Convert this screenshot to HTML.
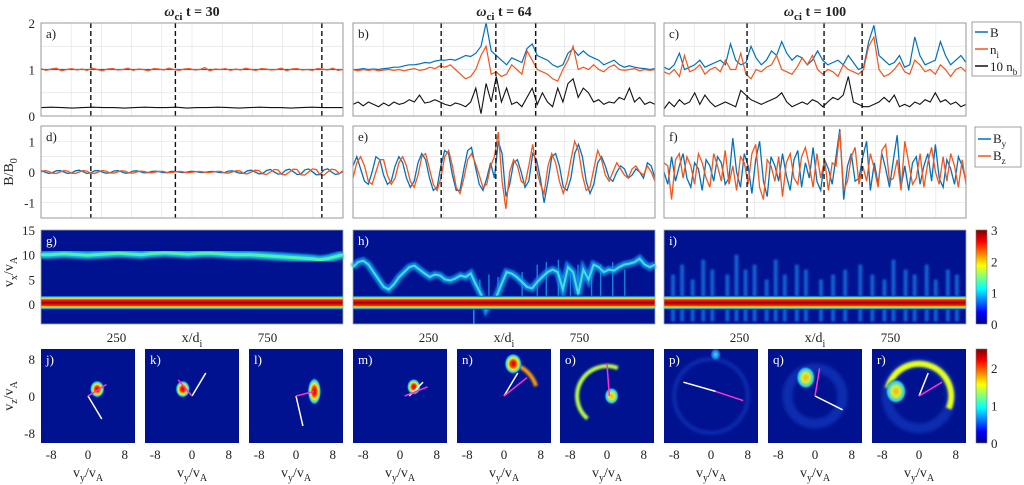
<!DOCTYPE html>
<html><head><meta charset="utf-8">
<style>
html,body{margin:0;padding:0;background:#fff;}
svg{display:block;font-family:"Liberation Serif","Times New Roman",serif;}
svg text{font-family:"Liberation Serif","Times New Roman",serif;}
</style></head>
<body>
<svg id="fig" width="1024" height="485" viewBox="0 0 1024 485" xmlns="http://www.w3.org/2000/svg">
<defs>
<filter id="blur1" x="-50%" y="-20%" width="200%" height="140%"><feGaussianBlur stdDeviation="1"/></filter>
<filter id="blur2" x="-50%" y="-50%" width="200%" height="200%"><feGaussianBlur stdDeviation="1.8"/></filter>
<linearGradient id="jetV" x1="0" y1="1" x2="0" y2="0">
<stop offset="0" stop-color="#00008f"/><stop offset="0.125" stop-color="#0000ff"/><stop offset="0.375" stop-color="#00ffff"/><stop offset="0.625" stop-color="#ffff00"/><stop offset="0.875" stop-color="#ff0000"/><stop offset="1" stop-color="#800000"/>
</linearGradient>
<linearGradient id="coreG" x1="0" y1="0" x2="0" y2="1">
<stop offset="0" stop-color="#00128f"/><stop offset="0.08" stop-color="#20c8f0"/><stop offset="0.18" stop-color="#f0f020"/><stop offset="0.3" stop-color="#ff2000"/><stop offset="0.5" stop-color="#a00000"/><stop offset="0.7" stop-color="#ff2000"/><stop offset="0.8" stop-color="#f0f020"/><stop offset="0.9" stop-color="#20c8f0"/><stop offset="1" stop-color="#00128f"/>
</linearGradient>
<radialGradient id="blobG"><stop offset="0" stop-color="#c00000"/><stop offset="0.3" stop-color="#ff3000"/><stop offset="0.55" stop-color="#f0f020"/><stop offset="0.8" stop-color="#20c8f0"/><stop offset="1" stop-color="#00128f" stop-opacity="0"/></radialGradient>
<radialGradient id="blobY"><stop offset="0" stop-color="#ffb000"/><stop offset="0.4" stop-color="#d0f040"/><stop offset="0.75" stop-color="#20c8f0"/><stop offset="1" stop-color="#00128f" stop-opacity="0"/></radialGradient>
<radialGradient id="blobC"><stop offset="0" stop-color="#40e0d0"/><stop offset="0.6" stop-color="#1a70f0"/><stop offset="1" stop-color="#00128f" stop-opacity="0"/></radialGradient>
</defs>
</svg>
<script>
// ---------- data ----------
const niC1 = [1.02,0.98,1.01,1.03,0.97,1.0,1.02,0.99,1.01,0.98,1.03,1.0,0.97,1.01,1.02,0.99,1.0,1.03,0.98,1.01,1.0,0.97,1.02,1.01,0.99,1.03,1.0,0.98,1.01,1.02,0.99,1.0,1.04,0.97,1.01,1.0,1.02,0.98,1.01,0.99,1.03,1.0,0.98,1.02,1.01,0.99,1.0,1.03,0.97,1.01,1.02,0.99,1.0,0.98,1.02,1.01,0.99,1.03,0.98,1.0];
const bC1 = [1.0,1.0,1.0,1.0,1.0,1.0,1.0,1.0,1.0,1.0];
const nbC1 = [0.18,0.19,0.18,0.17,0.18,0.19,0.18,0.18,0.17,0.18,0.19,0.18,0.18,0.19,0.17,0.18,0.18,0.19,0.18,0.17,0.18,0.19,0.18,0.18,0.17,0.18,0.19,0.18,0.18,0.18];
const bC2 = [1.0,1.0,1.02,1.0,1.01,1.0,1.02,1.03,1.05,1.05,1.08,1.1,1.1,1.12,1.15,1.14,1.18,1.2,1.2,1.22,1.2,1.25,1.3,1.28,1.35,1.5,2.0,1.4,1.3,1.2,1.1,1.25,1.2,1.15,1.45,1.55,1.3,1.25,1.2,1.1,1.05,1.1,1.35,1.45,1.3,1.4,1.3,1.25,1.2,1.1,1.15,1.2,1.1,1.05,1.08,1.05,1.03,1.02,1.0,1.02];
const niC2 = [1.0,0.97,1.0,0.98,1.0,0.97,0.99,1.0,0.98,1.0,0.97,1.0,1.02,0.98,1.0,1.05,1.02,1.08,1.05,1.1,1.0,0.9,0.8,0.85,1.0,1.3,1.5,0.9,0.95,0.85,0.9,1.1,1.0,0.9,1.4,1.2,1.0,0.95,0.9,0.8,0.75,1.0,1.2,1.5,1.0,1.05,1.0,1.1,1.0,0.95,1.05,1.1,1.0,0.98,1.0,1.02,0.97,1.0,0.98,1.0];
const nbC2 = [0.25,0.3,0.22,0.3,0.25,0.2,0.28,0.22,0.3,0.25,0.28,0.35,0.3,0.45,0.28,0.3,0.35,0.3,0.25,0.22,0.28,0.25,0.2,0.3,0.6,0.05,0.7,0.3,0.85,0.3,0.6,0.25,0.3,0.2,0.4,0.6,0.25,0.5,0.3,0.2,0.6,0.3,0.7,0.8,0.4,0.6,0.5,0.3,0.35,0.25,0.3,0.28,0.4,0.35,0.6,0.3,0.4,0.25,0.3,0.25];
const bC3 = [1.05,1.0,1.1,1.35,1.0,1.05,1.1,1.2,1.05,1.1,1.15,1.2,1.1,1.55,1.2,1.1,1.15,1.5,1.25,1.1,1.2,1.4,1.3,1.6,1.35,1.2,1.3,1.25,1.1,1.2,1.4,1.2,1.1,1.15,1.2,1.1,1.3,1.15,1.0,1.05,1.6,1.95,1.3,1.2,1.1,1.15,1.3,1.05,1.1,1.7,1.3,1.1,1.15,1.2,1.6,1.3,1.1,1.2,1.3,1.15];
const niC3 = [0.95,0.9,1.0,0.85,1.3,0.95,1.0,1.1,0.9,1.0,1.05,0.95,1.2,1.0,1.0,1.35,0.9,0.8,1.0,0.95,1.05,1.1,1.3,1.0,0.95,0.9,1.05,1.25,1.1,1.3,1.0,0.9,1.0,0.95,0.85,1.1,1.0,0.95,0.9,1.0,1.5,1.7,1.0,0.85,0.9,1.0,1.15,0.95,0.9,1.2,1.1,0.95,1.0,0.9,1.1,1.0,0.85,1.0,1.05,0.95];
const nbC3 = [0.15,0.3,0.2,0.35,0.25,0.3,0.5,0.25,0.45,0.3,0.2,0.25,0.3,0.25,0.2,0.55,0.45,0.35,0.3,0.25,0.3,0.35,0.4,0.5,0.3,0.2,0.25,0.3,0.25,0.35,0.3,0.2,0.3,0.4,0.35,0.45,0.85,0.3,0.25,0.2,0.2,0.25,0.3,0.4,0.3,0.45,0.2,0.25,0.2,0.3,0.25,0.35,0.3,0.5,0.3,0.35,0.25,0.3,0.2,0.25];
const byC1 = [0.05,0.0,-0.05,-0.02,0.04,0.05,0.0,-0.05,-0.03,0.04,0.06,0.01,-0.05,-0.03,0.04,0.05,0.0,-0.04,-0.03,0.03,0.05,0.01,-0.04,-0.03,0.03,0.04,0.01,-0.03,-0.02,0.02,0.03,0.01,-0.02,-0.02,0.02,0.02,0.0,-0.02,-0.01,0.02,0.02,0.0,-0.02,-0.01,0.01,0.02,0.0,-0.02,-0.02,0.03,0.04,0.0,-0.04,-0.04,0.04,0.06,0.0,-0.06,-0.05,0.05,0.08,0.0,-0.07,-0.06,0.06,0.09,0.01,-0.08,-0.07,0.07,0.1,0.01,-0.09,-0.08,0.07,0.1,0.0,-0.08,-0.06,0.04];
const bzC1 = [0.0,0.05,0.02,-0.04,-0.05,0.0,0.05,0.03,-0.04,-0.05,0.0,0.05,0.03,-0.04,-0.05,0.0,0.05,0.03,-0.03,-0.04,0.0,0.04,0.03,-0.03,-0.04,0.0,0.03,0.02,-0.02,-0.03,0.0,0.02,0.02,-0.02,-0.02,0.0,0.02,0.01,-0.02,-0.02,0.0,0.02,0.01,-0.01,-0.02,0.0,0.02,0.02,-0.03,-0.04,0.0,0.04,0.04,-0.05,-0.06,0.0,0.06,0.05,-0.06,-0.08,0.0,0.08,0.07,-0.08,-0.09,0.0,0.09,0.08,-0.09,-0.1,0.0,0.1,0.08,-0.09,-0.1,0.0,0.09,0.07,-0.05,0.0];
const byC2 = [0.2,0.5,0.1,-0.3,-0.4,0.0,0.5,0.4,-0.1,-0.4,-0.3,0.2,0.5,0.3,-0.2,-0.5,-0.3,0.3,0.6,0.4,-0.2,-0.6,-0.5,0.2,0.7,0.6,-0.1,-0.6,-0.6,0.1,0.7,0.8,0.2,-0.4,-0.6,-0.2,0.3,-0.2,1.0,0.6,-0.8,-0.4,0.3,0.4,0.0,-0.5,-0.3,0.6,0.4,-0.2,-1.0,-0.3,0.5,0.6,0.2,-0.5,-0.6,-0.2,0.6,0.9,0.5,-0.3,-0.7,-0.4,0.3,0.5,0.2,-0.2,-0.3,0.0,0.2,0.1,-0.2,-0.1,0.1,0.0,-0.2,0.3,0.2,-0.2];
const bzC2 = [-0.2,0.3,0.5,0.2,-0.3,-0.4,0.0,0.4,0.4,-0.1,-0.4,-0.2,0.3,0.5,0.2,-0.3,-0.5,-0.1,0.5,0.6,0.1,-0.4,-0.6,-0.2,0.5,0.7,0.2,-0.5,-0.7,-0.2,0.4,0.6,0.3,-0.1,-0.5,-0.4,0.2,0.5,1.3,-0.3,-1.2,0.0,0.4,0.2,-0.3,-0.4,0.2,0.9,0.1,-0.4,-0.7,0.2,0.6,0.3,-0.3,-0.7,-0.3,0.4,1.0,0.7,-0.1,-0.6,-0.5,0.1,0.7,0.4,-0.1,-0.3,0.0,0.3,0.1,-0.1,-0.2,0.1,0.2,0.0,-0.1,0.2,0.0,-0.3];
const byC3 = [0.0,-0.4,0.5,-0.3,0.2,0.6,-0.2,-0.5,0.3,0.1,-0.6,0.4,0.2,-0.3,0.5,0.3,-0.4,-0.2,1.1,0.0,-0.5,0.6,0.2,-0.7,0.4,1.0,-0.3,-0.8,0.5,0.2,-0.3,0.6,-0.1,-0.6,0.4,0.7,-0.5,0.3,-0.2,0.8,-0.3,-0.6,0.4,0.1,-0.4,0.5,1.4,-0.9,0.2,0.6,-0.3,-0.2,0.5,1.0,-0.6,0.3,-0.4,0.6,0.1,-0.5,0.4,1.2,-0.5,0.2,-0.6,0.3,0.5,-0.4,0.2,0.6,-0.3,0.9,-0.2,-0.5,0.4,0.1,-0.4,0.5,0.2,-0.3];
const bzC3 = [0.3,0.2,-0.9,0.4,0.6,-0.2,0.5,0.2,-0.4,0.6,0.3,-0.2,-0.5,0.6,0.2,-0.3,0.7,-0.4,0.2,-0.6,0.5,0.3,-0.4,0.6,0.9,-0.5,-0.9,0.4,0.2,-0.3,0.5,-0.8,0.3,0.6,-0.2,-0.4,0.5,0.8,0.2,-0.5,0.6,-0.2,0.4,-0.6,0.3,0.2,1.3,-0.6,-0.3,0.5,0.8,-0.4,0.2,-0.3,0.6,0.1,-0.5,0.7,0.9,-0.3,-0.2,0.4,-0.6,1.0,0.3,-0.4,-0.2,0.6,-0.5,0.3,0.8,0.0,-0.4,0.5,-0.3,0.6,0.2,-0.5,0.4,-0.4];
const dashC1 = [165,445,930];
const dashC2 = [292,473,605];
const dashC3 = [275,530,656];
const beamG = [10,10,10.1,10.2,10.1,10.0,9.9,10,10.1,10.2,10.3,10.2,10.1,10.0,10.2,10.3,10.4,10.3,10.2,10.1,10.2,10.3,10.3,10.2,10.1,10.0,10,10,9.9,9.8,9.7,9.6,9.5,9.4,9.3,9.2,9.0,9.2,9.6,10.0];
const beamH = [7.5,8.5,8.8,8,6.5,5,3.5,3,4,5.5,6.5,7.5,7.8,7,6.2,5.5,6,5.8,5,4.8,5.2,5.8,5.5,6.2,4,2,-1,0.5,1.5,4,6.5,6.2,5.5,4.5,3.5,3.2,4.5,5.5,6.5,7,6.5,3,7.5,6.5,2,7,5,8,7.5,6.5,7,6.8,7.5,8,8.2,8.5,9.2,8,7.5,8];
const streakHX = [420,450,480,560,610,640,680,720,745,790,820,860,900];
const streakHTop = [5,6,5.5,6.5,8,8.5,9,7.5,8,7,8,8.5,7];
const streakIX = [30,60,95,130,160,210,240,270,300,340,370,400,440,470,520,560,600,650,690,730,760,800,830,870,900,940,970];
const streakITop = [6,8,5,9,7,6,10,7,8,5,9,6,8,7,5,6,7,8,6,5,9,7,6,8,5,7,6];
const vPanels = ['j','k','l','m','n','o','p','q','r'];
const blobVy = [2,-2,4,3,2,1,1,-2,-5];
const blobVz = [1.5,1.5,1,2,7,0,9,4,1];
const blobR = [1.5,1.5,1.4,1.4,1.8,1.5,1.2,2,2.2];
const arcR = [0,0,0,0,7.3,6.5,8,6,7];
const arcA0 = [0,0,0,0,0.3,1.2,0,0,-0.4];
const arcA1 = [0,0,0,0,1.3,4.0,6.28,6.28,2.9];
const arcVal = [0,0,0,0,1.8,1.4,0.5,0.7,1.5];
const whiteLine = [[0,0,3,-5],[0,0,3,5],[0,0,1.5,-6.5],[2,0,5,3],[0,0,3,5],[0,0,0,0],[-6,3,1,1],[0,0,6,-3],[0,0,2,5]];
const magLine = [[0,0,4,2.5],[0,0,-3,3.5],[0,0,4,1],[1,0,6,2],[0,0,5,4],[0,7,0.5,0],[1,1,7,-1],[0,0,1,6],[0,0,5,3]];

// ---------- helpers ----------
const svg=document.getElementById('fig');
const NS='http://www.w3.org/2000/svg';
function mk(tag,attrs,parent){const e=document.createElementNS(NS,tag);for(const k in attrs)e.setAttribute(k,attrs[k]);(parent||svg).appendChild(e);return e;}
function txt(x,y,s,size,anchor,parent,extra){const t=mk('text',Object.assign({x:x,y:y,'font-size':size,'text-anchor':anchor||'middle',fill:'#222'},extra||{}),parent);t.style.fontFamily='"Liberation Serif","Times New Roman",serif';t.innerHTML=s;return t;}
const X0=[41,353,664],W=302;
const BLUE='#0072bd',ORG='#f2561d';
function sx(c,v){return X0[c]+v/1000*W;}
function yA(v){return 116-v/2*93;}
function yD(v){return 172-v*30.7;}
function yG(v){return 324-(v+4)/19*94;}
function jet(t){t=Math.max(0,Math.min(1,t));const r=Math.min(1,Math.max(0,1.5-Math.abs(4*t-3))),g=Math.min(1,Math.max(0,1.5-Math.abs(4*t-2))),b=Math.min(1,Math.max(0,1.5-Math.abs(4*t-1)));return 'rgb('+Math.round(r*255)+','+Math.round(g*255)+','+Math.round(b*255)+')';}
function series(c,arr,yf,color,name,parent,w){const n=arr.length;let pts=arr.map((v,i)=>sx(c,i*1000/(n-1)).toFixed(1)+','+yf(v).toFixed(1)).join(' ');const p=mk('polyline',{points:pts,fill:'none',stroke:color,'stroke-width':w||1.2},parent);

return p;}

const titles=['30','64','100'];
const labA=['a)','b)','c)'],labD=['d)','e)','f)'],labG=['g)','h)','i)'];
const dashes=[dashC1,dashC2,dashC3];
const B=[bC1,bC2,bC3],NI=[niC1,niC2,niC3],NB=[nbC1,nbC2,nbC3],BY=[byC1,byC2,byC3],BZ=[bzC1,bzC2,bzC3];

for(let c=0;c<3;c++){
  const cx=X0[c]+W/2;
  const tt=txt(cx,16,'<tspan font-style="italic">ω</tspan><tspan font-size="11" dy="4">ci</tspan><tspan dy="-4"> t = '+titles[c]+'</tspan>',14,'middle');
  tt.setAttribute('font-weight','bold');
  
  
  [['a',23,116,[0,0.5,1,1.5,2],yA],['d',126,218,[-1.5,-1,-0.5,0,0.5,1,1.5],yD]].forEach((r,ri)=>{
    const g=mk('g',{});
    
    
    mk('rect',{x:X0[c],y:r[1],width:W,height:r[2]-r[1],fill:'#fff'},g);
    for(let v=100;v<1000;v+=100)mk('line',{x1:sx(c,v),x2:sx(c,v),y1:r[1],y2:r[2],stroke:'#e4e4e4','stroke-width':0.7},g);
    r[3].forEach(v=>mk('line',{x1:X0[c],x2:X0[c]+W,y1:r[4](v),y2:r[4](v),stroke:'#e4e4e4','stroke-width':0.7},g));
    if(ri==0){series(c,NB[c],yA,'#111','series-10nb',g,1.1);series(c,B[c],yA,BLUE,'series-B',g,1.2);series(c,NI[c],yA,ORG,'series-ni',g,1.2);}
    else{series(c,BY[c],yD,BLUE,'series-By',g,1.3);series(c,BZ[c],yD,ORG,'series-Bz',g,1.3);}
    dashes[c].forEach(d=>{const l=mk('line',{x1:sx(c,d),x2:sx(c,d),y1:r[1],y2:r[2],stroke:'#111','stroke-width':1.4,'stroke-dasharray':'5,3'},g);
      
      });
    mk('rect',{x:X0[c],y:r[1],width:W,height:r[2]-r[1],fill:'none',stroke:'#999','stroke-width':1},g);
    txt(X0[c]+5,r[1]+15,ri==0?labA[c]:labD[c],13,'start',g);
  });
  const hg=mk('g',{});
  
  
  mk('rect',{x:X0[c],y:230,width:W,height:94,fill:'#00128f'},hg);
  if(c==0){
    const pts=beamG.map((v,i)=>sx(c,i*1000/(beamG.length-1)).toFixed(1)+','+yG(v).toFixed(1)).join(' ');
    mk('polyline',{points:pts,fill:'none',stroke:'#18b8e8','stroke-width':8,filter:'url(#blur1)'},hg);
    mk('polyline',{points:pts,fill:'none',stroke:'#50f0b0','stroke-width':3},hg);
  } else if(c==1){
    streakHX.forEach((x,i)=>mk('rect',{x:sx(c,x)-0.7,width:1.4,y:yG(streakHTop[i]),height:yG(1.5)-yG(streakHTop[i]),fill:'#1aa0f0',opacity:0.8},hg));
    const pts=beamH.map((v,i)=>sx(c,i*1000/(beamH.length-1)).toFixed(1)+','+yG(v).toFixed(1)).join(' ');
    mk('polyline',{points:pts,fill:'none',stroke:'#1890f0','stroke-width':7,filter:'url(#blur1)',opacity:0.9},hg);
    mk('polyline',{points:pts,fill:'none',stroke:'#40e0d8','stroke-width':2},hg);
    mk('rect',{x:sx(c,400)-0.7,width:1.4,y:yG(-1),height:yG(-4)-yG(-1),fill:'#1aa0f0'},hg);
  } else {
    streakIX.forEach((x,i)=>mk('rect',{x:sx(c,x)-2,width:4,y:yG(streakITop[i]),height:yG(-3.5)-yG(streakITop[i]),fill:'#1a80f0',opacity:0.7,filter:'url(#blur1)'},hg));
  }
  mk('rect',{x:X0[c],y:yG(1.7),width:W,height:yG(-1.1)-yG(1.7),fill:'url(#coreG)'},hg);
  mk('rect',{x:X0[c],y:230,width:W,height:94,fill:'none',stroke:'#9aa','stroke-width':0.8},hg);
  const lt=txt(X0[c]+5,245,labG[c],13,'start',hg);lt.setAttribute('fill','#fff');
  txt(sx(c,250),342,'250',13,'middle');
  txt(sx(c,750),342,'750',13,'middle');
  const xl=txt(cx,342,'x/d<tspan font-size="10" dy="5">i</tspan>',14,'middle');
  
  
}

const sqX=[41,145,249,353,457,560,664,768,872];
for(let k=0;k<9;k++){
  const x0=sqX[k],y0=349,S=94,cx=x0+S/2,cy=y0+S/2,sc=4.6;
  const px=v=>cx+v*sc, py=v=>cy-v*sc;
  const g=mk('g',{});
  
  
  const clip=mk('clipPath',{id:'cl'+k},g);mk('rect',{x:x0,y:y0,width:S,height:S},clip);
  mk('rect',{x:x0,y:y0,width:S,height:S,fill:'#00128f'},g);
  const ig=mk('g',{'clip-path':'url(#cl'+k+')'},g);
  if(arcR[k]>0){
    const r=arcR[k]*sc, col=jet(arcVal[k]/2.5);
    if(k>=6){mk('circle',{cx:cx,cy:cy,r:r,fill:'none',stroke:'#1a50d8','stroke-width':k==6?3:10,opacity:k==6?0.6:0.45,filter:'url(#blur2)'},ig);}
    const a0=arcA0[k],a1=arcA1[k];
    if(a1-a0<6){
      const large=(a1-a0)>Math.PI?1:0;
      const d='M'+(cx+r*Math.cos(a0))+','+(cy-r*Math.sin(a0))+' A'+r+','+r+' 0 '+large+' 0 '+(cx+r*Math.cos(a1))+','+(cy-r*Math.sin(a1));
      mk('path',{d:d,fill:'none',stroke:col,'stroke-width':k==8?6:4,filter:'url(#blur1)'},ig);
    }
  }
  const grad=k<=4?'url(#blobG)':(k==6?'url(#blobC)':'url(#blobY)');
  const ry=k==2?2.2:1.3;
  mk('ellipse',{cx:px(blobVy[k]),cy:py(blobVz[k]),rx:blobR[k]*sc*1.1,ry:blobR[k]*sc*ry,fill:grad},ig);
  const w=whiteLine[k],m=magLine[k];
  if(w[0]!=w[2]||w[1]!=w[3])mk('line',{x1:px(w[0]),y1:py(w[1]),x2:px(w[2]),y2:py(w[3]),stroke:'#fff','stroke-width':1.5},ig);
  mk('line',{x1:px(m[0]),y1:py(m[1]),x2:px(m[2]),y2:py(m[3]),stroke:'#ff30d0','stroke-width':1.5},ig);
  const lt=txt(x0+5,y0+15,vPanels[k]+')',13,'start',g);lt.setAttribute('fill','#fff');
  [-8,0,8].forEach(v=>txt(px(v),459,String(v),13,'middle'));
  const vl=txt(cx,477,'v<tspan font-size="10" dy="4">y</tspan><tspan dy="-4">/v</tspan><tspan font-size="10" dy="4">A</tspan>',14,'middle');
  
  
}

[[0,yA],[1,yA],[2,yA]].forEach(t=>txt(35,t[1](t[0])+5,String(t[0]),13,'end'));
[[1,yD],[0,yD],[-1,yD]].forEach(t=>txt(35,t[1](t[0])+5,String(t[0]),13,'end'));
[15,10,5,0].forEach(v=>txt(35,yG(v)+5,String(v),13,'end'));
[8,0,-8].forEach(v=>txt(35,396-v*4.6+5,String(v),13,'end'));
function ylab(x,y,html,name){const t=txt(0,0,html,14,'middle');t.setAttribute('transform','translate('+x+','+y+') rotate(-90)');

}
ylab(13,172,'B/B<tspan font-size="10" dy="4">0</tspan>','y-axis-title-b');
ylab(13,272,'v<tspan font-size="10" dy="4">x</tspan><tspan dy="-4">/v</tspan><tspan font-size="10" dy="4">A</tspan>','y-axis-title-vx');
ylab(13,396,'v<tspan font-size="10" dy="4">z</tspan><tspan dy="-4">/v</tspan><tspan font-size="10" dy="4">A</tspan>','y-axis-title-vz');

[[230,324,[0,1,2,3],3],[349,443,[0,1,2],2.5]].forEach((cb,i)=>{
  const g=mk('g',{});
  
  
  mk('rect',{x:976,y:cb[0],width:11,height:cb[1]-cb[0],fill:'url(#jetV)',stroke:'#777','stroke-width':0.6},g);
  cb[2].forEach(v=>txt(991,cb[1]-v/cb[3]*(cb[1]-cb[0])+5,String(v),13,'start',g));
});

const lg1=mk('g',{});


mk('rect',{x:972,y:22,width:49,height:54,fill:'#fff',stroke:'#888','stroke-width':0.8},lg1);
[['B',BLUE,''],['n','#f2561d','i'],['10 n','#111','b']].forEach((e,i)=>{
  const y=33+i*17;
  mk('line',{x1:975,x2:988,y1:y-1,y2:y-1,stroke:e[1],'stroke-width':1.5},lg1);
  const t=txt(990,y+4,e[0]+(e[2]?'<tspan font-size="9" dy="4">'+e[2]+'</tspan>':''),13,'start',lg1);
  
  
});
const lg2=mk('g',{});


mk('rect',{x:975,y:127,width:46,height:40,fill:'#fff',stroke:'#888','stroke-width':0.8},lg2);
[['B',BLUE,'y'],['B',ORG,'z']].forEach((e,i)=>{
  const y=139+i*17;
  mk('line',{x1:978,x2:991,y1:y,y2:y,stroke:e[1],'stroke-width':1.5},lg2);
  const t=txt(993,y+4,e[0]+'<tspan font-size="9" dy="4">'+e[2]+'</tspan>',13,'start',lg2);
  
  
});
</script>
</body></html>
